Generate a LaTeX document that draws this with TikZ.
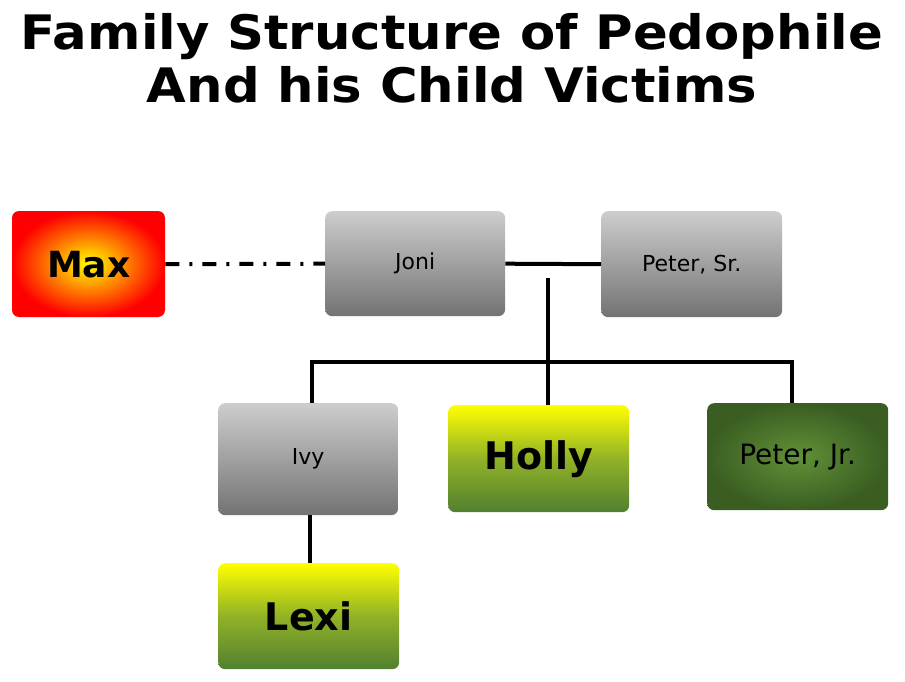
\documentclass[tikz,border=0pt]{standalone}
\usepackage{fontspec}
\setmainfont{DejaVu Sans}
\definecolor{gtop}{RGB}{205,205,205}
\definecolor{gbot}{RGB}{115,115,115}
\definecolor{olv}{RGB}{82,128,48}
\definecolor{olvd}{RGB}{68,110,40}
\definecolor{olvl}{RGB}{98,145,55}
\begin{document}
\begin{tikzpicture}[x=1pt,y=-1pt,
  box/.style={rounded corners=7pt,minimum width=181pt,minimum height=106pt,anchor=north west,inner sep=0pt},
  grey/.style={box,top color=gtop,bottom color=gbot,font=\fontsize{22}{24}\selectfont},
  yg/.style={box,top color=yellow,bottom color=olv,middle color=olvl!70!yellow,font=\bfseries\fontsize{38}{40}\selectfont},
  conn/.style={line width=4pt}]
\useasboundingbox (0,0) rectangle (905,682);
\node[font=\bfseries\fontsize{50}{56}\selectfont,align=center,scale=0.95,xscale=1.08] at (452,58) {Family Structure of Pedophile\\And his Child Victims};
\shade[rounded corners=7pt,inner color=yellow,outer color=red] (12,211) rectangle (165,317);
\node[box,minimum width=153pt,minimum height=106pt,font=\bfseries\fontsize{36}{40}\selectfont] (max) at (12,211) {Max};
\node[grey,minimum width=180pt,minimum height=105pt] (joni) at (325,211) {Joni};
\node[grey] (psr) at (601,211) {Peter, Sr.};
\node[grey,minimum width=180pt,minimum height=112pt] (ivy) at (218,403) {Ivy};
\node[yg,minimum height=107pt] (holly) at (448,405) {Holly};
\node[box,minimum height=107pt,inner color=olvl,outer color=olvd!85!black,font=\fontsize{28}{30}\selectfont] (pjr) at (707,403) {Peter, Jr.};
\node[yg,minimum width=181pt,minimum height=106pt] (lexi) at (218,563) {Lexi};
\coordinate (j) at (548,278);
\coordinate (h) at (548,362);
\draw[conn] (joni.east) -- (psr.west);
\draw[conn] (j) -- (j |- holly.north);
\draw[conn] (312,403) |- (h) -| (792,403);
\draw[conn] (310,515) -- (310,563);
\draw[line width=4pt,dash pattern=on 14pt off 10pt on 3pt off 10pt] (max.east) -- (joni.west);
\end{tikzpicture}
\end{document}
